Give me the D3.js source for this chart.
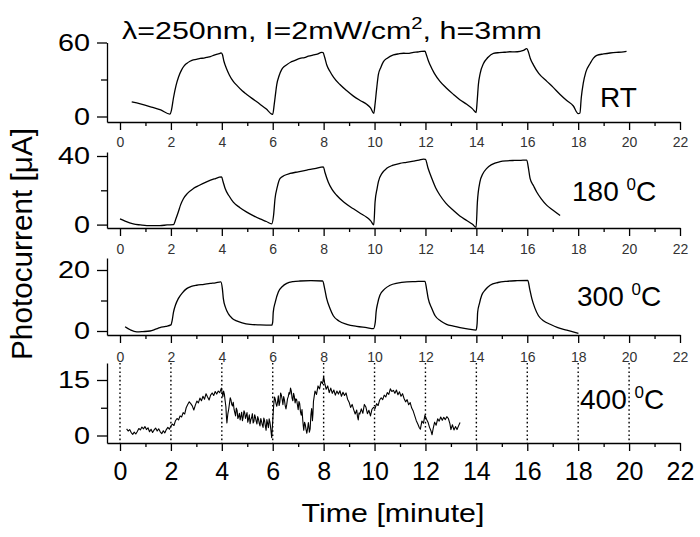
<!DOCTYPE html>
<html><head><meta charset="utf-8">
<script src="https://cdn.jsdelivr.net/npm/d3@7"></script>
<style>
body{margin:0;background:#fff}
svg{display:block}
text{font-family:"Liberation Sans",Arial,sans-serif}
</style>
</head><body>
<svg id="c" width="700" height="537"></svg>
<script>
// ---------------- DATA ----------------
const seriesRT = [
 [0.46,11.8],[0.8,10.2],[1.2,7.9],[1.6,5.3],[1.96,2.0],[2.02,5],[2.1,15],[2.2,25],[2.3,32],[2.42,37.8],[2.52,41],[2.62,43],[2.75,44.8],[2.88,46],[3.0,46.3],[3.15,47.1],[3.3,47.4],[3.4,47.9],[3.55,48.6],[3.7,49.8],[3.82,50.6],[3.93,51.2],[3.97,51.6],[4.02,50.5],[4.08,45],[4.19,38.5],[4.3,33.5],[4.45,28.5],[4.6,25],[4.8,20.8],[4.98,17.9],[5.2,14.5],[5.5,10],[5.75,6],[5.96,2.0],
 [6.0,1.8],[6.06,10],[6.12,20],[6.16,26],[6.25,33],[6.35,38],[6.45,40.5],[6.55,42],[6.7,44],[6.85,45.3],[7.07,47.2],[7.25,47.8],[7.4,48.9],[7.6,49.9],[7.75,50.6],[7.92,52],[7.98,51.8],[8.04,48],[8.12,42],[8.25,36.5],[8.4,31.5],[8.64,25.9],[8.9,21],[9.17,16.5],[9.45,12.8],[9.69,9.9],[9.85,6.8],[9.97,2.5],
 [10.02,10],[10.08,22],[10.15,33.9],[10.25,40],[10.35,44.5],[10.5,47.3],[10.74,49.9],[10.95,50.8],[11.15,51.3],[11.3,51.2],[11.53,52],[11.7,52.3],[11.85,52.8],[11.98,53],[12.03,50.5],[12.1,46],[12.18,41.9],[12.35,35],[12.57,28.5],[12.8,23.5],[13.1,17.9],[13.35,13.6],[13.62,9.9],[13.85,6.2],[13.99,3.2],
 [14.03,12],[14.08,25.9],[14.15,35],[14.28,43],[14.45,47.8],[14.67,51.2],[14.9,51.8],[15.1,52.1],[15.32,52.5],[15.5,52.4],[15.72,52.8],[15.85,53.6],[15.98,55],[16.05,52],[16.12,47],[16.24,41.9],[16.45,35],[16.77,28.5],[17.0,24],[17.29,17.9],[17.55,13],[17.81,8.5],[18.0,2.4],
 [18.07,2.9],[18.12,15],[18.2,27],[18.3,36],[18.47,43],[18.6,47.3],[18.73,49.6],[19.0,50.7],[19.25,51.5],[19.5,52],[19.7,52.2],[19.9,52.8]
];
const series180 = [
 [0.0,3.3],[0.2,2.0],[0.52,0.4],[0.8,-0.2],[1.05,-0.6],[1.3,-0.6],[1.57,-0.6],[1.85,-0.2],[2.1,0],[2.2,3.5],[2.29,7.3],[2.38,11.5],[2.49,15.1],[2.65,18.2],[2.88,21],[3.1,22.8],[3.4,24.9],[3.7,26.6],[3.99,27.8],[4.05,25],[4.13,21],[4.28,16.8],[4.45,13.1],[4.7,10],[4.98,7.3],[5.25,5.1],[5.5,3.3],[5.75,1.8],[5.96,0.4],
 [6.03,5],[6.09,15.1],[6.18,22],[6.29,26.9],[6.45,28.6],[6.68,29.8],[7.0,30.8],[7.34,31.8],[7.65,32.6],[7.99,33.7],[8.05,30.5],[8.18,24.9],[8.33,20.5],[8.51,17.1],[8.8,13],[9.17,9.2],[9.45,6.5],[9.69,4.3],[9.85,2.2],[9.97,-0.2],
 [10.02,13.1],[10.1,21],[10.15,24.9],[10.3,30],[10.48,32.8],[10.7,34.5],[11.0,35.7],[11.25,36.3],[11.53,37],[11.75,37.6],[11.92,38.2],[12.0,38],[12.1,33],[12.25,26.9],[12.4,21.5],[12.57,17.1],[12.8,12.5],[13.1,8.2],[13.35,5],[13.62,2.4],[13.85,0.2],[13.99,-1.6],
 [14.04,13.1],[14.14,24.9],[14.25,29.5],[14.41,32.8],[14.6,35],[14.93,36.7],[15.2,37.2],[15.5,37.4],[15.75,37.5],[15.98,37.6],[16.05,32.5],[16.11,26.9],[16.25,22.5],[16.37,19],[16.55,15],[16.77,11.2],[17.0,8.5],[17.29,5.3]
];
const series300 = [
 [0.2,1.4],[0.4,0.4],[0.66,-0.3],[0.9,-0.2],[1.18,0],[1.4,0.6],[1.57,1.1],[1.8,1.5],[2.0,2.0],[2.05,3.5],[2.1,6.1],[2.18,8.5],[2.29,10.6],[2.45,12.5],[2.62,13.9],[2.8,14.6],[3.01,15],[3.3,15.3],[3.54,15.6],[3.75,15.8],[3.96,16.1],[4.02,14],[4.06,10.6],[4.15,7.6],[4.26,5.6],[4.4,4.2],[4.58,3.3],[4.8,2.7],[5.11,2.2],[5.5,2.0],[5.96,1.9],
 [6.0,3],[6.02,6.1],[6.1,9.5],[6.22,12.8],[6.38,14.6],[6.55,15.6],[6.8,16.2],[7.07,16.4],[7.5,16.5],[7.96,16.4],[8.05,13.5],[8.12,10.6],[8.25,7.4],[8.38,5],[8.6,3.3],[8.91,2.2],[9.3,1.5],[9.69,1.1],[9.96,0.8],
 [10.03,3],[10.06,6.1],[10.12,9],[10.21,11.7],[10.4,13.8],[10.61,15],[10.9,15.7],[11.27,16.1],[11.6,16.2],[11.98,16.3],[12.05,13.5],[12.11,10.6],[12.25,7.4],[12.38,5],[12.6,3.3],[12.83,2.2],[13.1,1.6],[13.36,1.1],[13.7,0.6],[13.99,0.3],
 [14.03,2.5],[14.05,6.1],[14.12,9],[14.21,11.7],[14.36,13.6],[14.54,15],[14.85,15.9],[15.19,16.3],[15.6,16.5],[16.02,16.6],[16.1,13.6],[16.18,10.6],[16.3,7.5],[16.44,5],[16.65,3.3],[16.9,2.2],[17.2,1.1],[17.55,0.3],[17.8,-0.3],[18.01,-0.8]
];
const series400 = [
 [0.26,1.8],[0.32,1.2],[0.38,1.6],[0.44,0.8],[0.50,0.3],[0.56,0.9],[0.62,0.4],[0.68,1.1],[0.74,1.9],[0.80,1.5],[0.86,2.3],[0.92,1.8],[0.98,2.4],[1.04,1.6],[1.10,2.1],[1.16,1.0],[1.22,1.7],[1.28,0.8],[1.34,1.5],[1.40,2.0],[1.46,1.2],[1.52,1.8],[1.58,1.0],[1.64,0.5],[1.70,1.3],[1.76,0.7],[1.82,1.6],[1.88,2.2],[1.94,1.7],[2.00,2.6],
 [2.06,3.1],[2.12,2.7],[2.18,4.0],[2.24,4.6],[2.30,4.2],[2.36,5.3],[2.42,5.0],[2.48,6.2],[2.54,5.8],[2.60,7.5],[2.66,8.4],[2.72,9.1],[2.78,8.6],[2.84,8.0],[2.90,6.9],[2.96,8.2],[3.02,9.3],[3.08,8.8],[3.14,10.1],[3.20,9.4],[3.26,10.6],[3.32,9.8],[3.38,11.3],[3.44,10.4],[3.50,9.6],[3.56,10.9],[3.62,11.5],[3.68,10.8],[3.74,11.9],[3.80,11.2],[3.86,12.0],[3.92,11.6],[3.98,12.8],
 [4.04,10.5],[4.07,12.0],[4.10,11.2],[4.13,9.4],[4.16,7.8],[4.18,5.2],[4.20,3.4],[4.22,4.8],[4.24,6.0],[4.27,7.1],[4.30,8.6],[4.33,10.2],[4.36,9.6],[4.39,8.4],[4.42,8.0],[4.45,9.0],[4.48,7.1],[4.51,6.2],[4.54,5.3],[4.57,7.4],[4.60,6.8],[4.63,4.6],[4.66,5.1],[4.69,6.0],[4.72,4.2],[4.75,5.2],[4.78,6.3],[4.81,4.0],[4.84,5.0],[4.87,6.7],[4.90,6.1],[4.93,4.6],[4.96,5.4],[4.99,6.2],
 [5.02,3.6],[5.05,4.5],[5.08,5.6],[5.11,3.2],[5.14,4.3],[5.17,4.8],[5.20,5.9],[5.23,3.4],[5.26,3.8],[5.29,5.6],[5.32,4.9],[5.35,3.9],[5.38,3.1],[5.41,5.1],[5.44,4.4],[5.47,3.3],[5.50,2.6],[5.53,4.6],[5.56,3.8],[5.59,2.9],[5.62,2.2],[5.65,4.7],[5.68,4.0],[5.71,2.6],[5.74,1.4],[5.77,4.3],[5.80,3.3],[5.83,2.1],[5.86,4.5],[5.89,3.6],[5.92,2.0],[5.96,-0.6],
 [6.00,3.9],[6.02,6.2],[6.04,8.4],[6.07,10.4],[6.10,9.8],[6.13,8.6],[6.16,7.9],[6.19,9.1],[6.22,10.7],[6.25,8.1],[6.28,9.0],[6.31,11.5],[6.34,10.9],[6.37,9.8],[6.40,8.3],[6.43,10.5],[6.46,9.6],[6.49,8.1],[6.52,7.2],[6.55,8.4],[6.58,9.9],[6.61,10.5],[6.64,11.6],[6.67,11.2],[6.70,12.8],[6.73,12.0],[6.76,10.1],[6.79,9.4],[6.82,11.4],[6.85,10.5],[6.88,8.8],[6.91,9.9],[6.94,9.7],[6.97,8.3],
 [7.00,7.0],[7.03,9.2],[7.06,8.6],[7.09,6.4],[7.12,5.5],[7.15,7.0],[7.18,4.1],[7.20,2.6],[7.22,1.4],[7.25,3.6],[7.28,2.9],[7.31,1.6],[7.34,0.6],[7.37,1.9],[7.40,3.5],[7.42,2.4],[7.44,0.9],[7.47,1.8],[7.50,5.6],[7.53,7.3],[7.56,4.0],[7.58,5.9],[7.60,9.2],[7.66,12.0],[7.72,11.1],[7.78,13.4],[7.84,12.6],[7.90,14.6],[7.96,14.0],[8.00,15.9],
 [8.04,14.2],[8.10,12.5],[8.16,13.4],[8.22,11.6],[8.28,12.8],[8.34,11.4],[8.40,12.3],[8.46,10.9],[8.52,12.0],[8.58,11.2],[8.64,12.1],[8.70,10.6],[8.76,11.7],[8.82,10.8],[8.88,11.5],[8.94,9.8],[9.00,9.0],[9.06,7.6],[9.12,8.4],[9.18,7.0],[9.24,5.8],[9.30,6.9],[9.33,5.1],[9.36,4.2],[9.39,6.1],[9.42,5.8],[9.48,7.2],[9.54,6.0],[9.60,8.4],[9.66,7.7],[9.72,5.9],[9.78,6.8],[9.84,5.3],[9.90,7.1],[9.96,7.6],
 [10.02,7.3],[10.08,8.6],[10.14,8.1],[10.20,9.6],[10.26,10.2],[10.32,9.7],[10.38,10.9],[10.44,10.4],[10.50,11.6],[10.56,11.1],[10.62,12.6],[10.68,11.9],[10.74,12.2],[10.80,11.4],[10.86,12.3],[10.92,11.0],[10.98,11.8],[11.04,10.6],[11.10,11.3],[11.16,10.0],[11.22,9.1],[11.28,9.7],[11.34,8.3],[11.40,8.9],[11.46,7.4],[11.52,6.6],[11.58,5.3],[11.64,4.0],[11.70,3.1],[11.76,2.1],[11.80,1.7],[11.86,3.9],[11.92,3.3],[11.98,5.5],
 [12.04,4.4],[12.10,3.6],[12.16,2.2],[12.22,1.2],[12.26,0.2],[12.30,1.8],[12.36,3.6],[12.42,2.8],[12.48,4.5],[12.54,3.9],[12.60,5.0],[12.66,4.1],[12.72,4.9],[12.78,4.3],[12.84,5.1],[12.90,4.6],[12.96,3.2],[13.00,1.6],[13.06,2.9],[13.12,1.5],[13.18,2.4],[13.24,1.6],[13.30,2.6],[13.36,3.5]
];
const panelNames = ["RT", "180", "300", "400"];
const yMajorTicks = [[0, 60], [0, 40], [0, 20], [0, 15]];
const yMinorTicks = [[30], [20], [10], [7.5]];
const xMajorTicks = [0, 2, 4, 6, 8, 10, 12, 14, 16, 18, 20, 22];
const xMinorTicks = [1, 3, 5, 7, 9, 11, 13, 15, 17, 19, 21];
const dottedMarks = [0, 2, 4, 6, 8, 10, 12, 14, 16, 18, 20];
const titleMain = "λ=250nm, I=2mW/cm";
const titleSup = "2";
const titleTail = ", h=3mm";
const xTitle = "Time [minute]";
const yTitle = "Photocurrent [μA]";

// ---------------- LAYOUT ----------------
const svg = d3.select("#c");
const FONT = '"Liberation Sans",Arial,sans-serif';
const x = d3.scaleLinear().domain([0, 22]).range([120, 680]);
const axisLeftX = 107;
const xa = d3.scaleLinear().domain([x.invert(axisLeftX), 22]).range([axisLeftX, 680]);

const layout = [
  {zeroY:116.5, maxY:42.5, axisY:122, topY:42.5, pad:7,  fs:14, smooth:true},
  {zeroY:224.6, maxY:156,  axisY:228, topY:152,  pad:8,  fs:14, smooth:true},
  {zeroY:331,   maxY:270,  axisY:335, topY:258,  pad:9,  fs:14, smooth:true},
  {zeroY:435.5, maxY:380,  axisY:443, topY:363,  pad:11, fs:25, smooth:false}
];
const allSeries = [seriesRT, series180, series300, series400];

layout.forEach((L, i) => {
  const vmax = yMajorTicks[i][1];
  const base = d3.scaleLinear().domain([0, vmax]).range([L.zeroY, L.maxY]);
  const y = d3.scaleLinear().domain([base.invert(L.axisY), base.invert(L.topY)]).range([L.axisY, L.topY]);

  if (i === 3) {
    svg.append("g").selectAll("line").data(dottedMarks).join("line")
      .attr("x1", d => x(d)).attr("x2", d => x(d))
      .attr("y1", L.topY).attr("y2", L.axisY)
      .attr("stroke", "#000").attr("stroke-width", 1.4)
      .attr("stroke-dasharray", "1.6,2.6");
  }

  const gx = svg.append("g").attr("transform", `translate(0,${L.axisY})`)
    .call(d3.axisBottom(xa).tickValues(xMajorTicks.concat(xMinorTicks))
      .tickSize(8).tickSizeOuter(0).tickPadding(L.pad)
      .tickFormat(d => xMajorTicks.includes(d) ? d : ""));
  gx.selectAll(".tick line").attr("y2", d => xMajorTicks.includes(d) ? 8 : 4);
  gx.selectAll("path,line").attr("stroke", "#000").attr("stroke-width", 1.3);
  gx.selectAll("text").attr("font-family", FONT).attr("font-size", L.fs)
    .attr("fill", i === 3 ? "#000" : "#333");

  const gy = svg.append("g").attr("transform", `translate(${axisLeftX},0)`)
    .call(d3.axisLeft(y).tickValues(yMajorTicks[i].concat(yMinorTicks[i]))
      .tickSize(10).tickSizeOuter(0)
      .tickFormat(d => yMajorTicks[i].includes(d) ? d : ""));
  gy.selectAll(".tick line").attr("x2", d => yMajorTicks[i].includes(d) ? -10 : -6);
  gy.selectAll("path,line").attr("stroke", "#000").attr("stroke-width", 1.3);
  gy.selectAll("text").attr("font-family", FONT).attr("font-size", 24).attr("fill", "#000")
    .attr("x", 0).attr("transform", "translate(-17,0) scale(1.2,1)");

  const line = d3.line().x(d => x(d[0])).y(d => y(d[1]))
    .curve(L.smooth ? d3.curveMonotoneX : d3.curveLinear);
  svg.append("path").datum(allSeries[i]).attr("d", line)
    .attr("fill", "none").attr("stroke", "#000")
    .attr("stroke-width", L.smooth ? 1.3 : 1.1).attr("stroke-linejoin", "round");
});

function fit(sel, width) {
  const w = sel.node().getBBox().width;
  return w > 0 ? width / w : 1;
}

const tg = svg.append("g");
const tt = tg.append("text").attr("font-family", FONT).attr("font-size", 24).attr("fill", "#000");
tt.append("tspan").text(titleMain);
tt.append("tspan").attr("font-size", 16).attr("dy", -10).text(titleSup);
tt.append("tspan").attr("dy", 10).text(titleTail);
tg.attr("transform", `translate(122,39) scale(${fit(tt, 420)},1)`);

const labelPos = [[600, 107], [572, 201], [577, 306], [580, 409]];
panelNames.forEach((name, i) => {
  const t = svg.append("text").attr("x", labelPos[i][0]).attr("y", labelPos[i][1])
    .attr("font-family", FONT).attr("font-size", 28).attr("fill", "#000");
  if (i === 0) { t.text(name); return; }
  t.append("tspan").text(name + " ");
  t.append("tspan").attr("font-size", 17).attr("dy", -11).text("0");
  t.append("tspan").attr("dy", 11).text("C");
});

const xg = svg.append("g");
const xt = xg.append("text").attr("font-family", FONT).attr("font-size", 25)
  .attr("text-anchor", "middle").attr("fill", "#000").text(xTitle);
xg.attr("transform", `translate(393,522) scale(${fit(xt, 183)},1)`);

const yg = svg.append("g");
const yt = yg.append("text").attr("font-family", FONT).attr("font-size", 30)
  .attr("text-anchor", "middle").attr("fill", "#000").text(yTitle);
yg.attr("transform", `translate(32,244) rotate(-90) scale(${fit(yt, 232)},1)`);
</script>
</body></html>
